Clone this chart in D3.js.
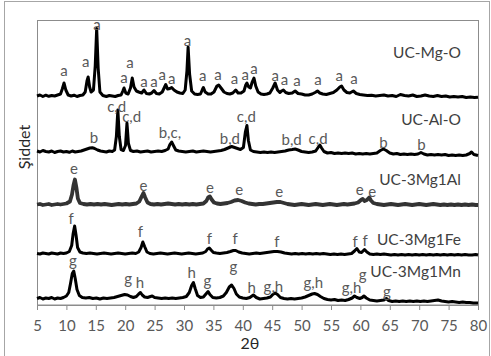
<!DOCTYPE html>
<html>
<head>
<meta charset="utf-8">
<script src="https://cdn.jsdelivr.net/npm/d3@7"></script>
<style>
  body { margin: 0; background: #fff; }
  text { font-family: Lato, "Open Sans", sans-serif; }
</style>
</head>
<body>
<div id="chart"></div>
<script>
// series names and stacking offsets (counts)
const seriesNames = ["UC-Mg-O", "UC-Al-O", "UC-3Mg1Al", "UC-3Mg1Fe", "UC-3Mg1Mn"];
const offsets = [2085, 1530, 1000, 510, 60];
const xTicks = [5, 10, 15, 20, 25, 30, 35, 40, 45, 50, 55, 60, 65, 70, 75, 80];

// [2theta, counts above offset]
const mgO = [[5,0],[5.5,10],[6,-5],[6.5,8],[7,-3],[7.5,5],[8,0],[8.5,10],[9,20],[9.3,70],[9.6,130],[9.9,60],[10.3,10],[10.8,0],[11.3,8],[11.8,-5],[12.3,5],[12.8,10],[13.2,40],[13.5,150],[13.7,190],[13.95,90],[14.2,40],[14.6,60],[14.9,300],[15.15,675],[15.4,280],[15.7,40],[16.2,5],[16.8,-5],[17.3,5],[17.8,0],[18.3,-5],[18.8,5],[19.3,10],[19.6,50],[19.8,80],[20.1,30],[20.5,20],[20.9,80],[21.2,180],[21.5,90],[21.9,50],[22.3,40],[22.8,30],[23.2,60],[23.6,25],[24.1,20],[24.5,30],[24.9,55],[25.3,25],[25.8,20],[26.3,40],[26.7,90],[26.9,115],[27.2,70],[27.6,75],[27.9,85],[28.3,60],[28.8,40],[29.3,30],[29.8,25],[30.2,60],[30.5,250],[30.7,490],[30.95,220],[31.3,50],[31.8,20],[32.3,15],[32.8,20],[33.1,60],[33.3,85],[33.6,40],[34.1,20],[34.6,20],[35.1,40],[35.6,100],[35.9,110],[36.3,80],[36.8,40],[37.3,25],[37.8,20],[38.3,30],[38.8,60],[39.2,30],[39.7,30],[40.2,50],[40.5,110],[40.7,130],[41.0,90],[41.3,80],[41.6,140],[41.9,180],[42.2,100],[42.6,40],[43.1,20],[43.6,15],[44.1,20],[44.6,30],[45.1,80],[45.5,130],[45.9,60],[46.3,35],[46.6,50],[46.9,60],[47.3,35],[47.8,25],[48.4,30],[48.9,50],[49.4,25],[50,20],[50.6,10],[51.2,10],[51.8,20],[52.3,35],[52.7,50],[53.1,30],[53.6,20],[54.2,15],[54.8,25],[55.4,35],[56,60],[56.5,90],[56.8,100],[57.2,60],[57.7,35],[58.2,30],[58.8,50],[59.3,25],[59.9,15],[60.5,10],[61.2,5],[61.9,8],[62.6,0],[63.3,5],[64,10],[64.7,0],[65.4,5],[66.1,-5],[66.8,15],[67.5,5],[68.2,0],[68.9,10],[69.6,-5],[70.3,0],[71,10],[71.7,0],[72.4,-5],[73.1,5],[73.8,-5],[74.5,0],[75.2,-10],[75.9,-5],[76.6,-10],[77.3,-5],[78,-15],[78.7,-10],[79.4,-15],[80,-12]];

const alO = [[5,5],[5.5,-5],[6,10],[6.5,0],[7,-5],[7.5,5],[8,-10],[8.5,0],[9,5],[9.5,-5],[10,0],[10.5,-8],[11,5],[11.5,-5],[12,0],[12.5,5],[13,15],[13.5,25],[14,35],[14.4,38],[14.8,30],[15.3,15],[15.8,5],[16.3,0],[16.8,-5],[17.3,5],[17.8,0],[18.2,15],[18.5,150],[18.75,415],[19.0,150],[19.3,20],[19.7,10],[20.05,60],[20.3,285],[20.55,80],[20.9,10],[21.4,0],[22,5],[22.6,-5],[23.2,0],[23.8,5],[24.4,-5],[25,0],[25.6,5],[26.2,0],[26.8,10],[27.3,25],[27.6,70],[27.9,95],[28.2,60],[28.6,15],[29.1,5],[29.7,0],[30.3,-5],[30.9,0],[31.5,5],[32.1,-5],[32.7,0],[33.3,5],[33.9,0],[34.5,-5],[35.1,0],[35.7,5],[36.3,10],[36.9,20],[37.5,35],[38.1,50],[38.6,40],[39.1,30],[39.6,20],[40.1,40],[40.45,200],[40.7,260],[40.95,110],[41.3,15],[41.8,0],[42.4,-5],[43,-10],[43.6,-5],[44.2,-10],[44.8,-5],[45.4,-10],[46,-5],[46.6,0],[47.2,5],[47.8,15],[48.4,20],[48.9,25],[49.4,15],[50,0],[50.6,-5],[51.2,-10],[51.8,-5],[52.4,5],[52.8,40],[53.1,65],[53.4,35],[53.8,0],[54.4,-15],[55,-10],[55.6,-20],[56.2,-15],[56.8,-20],[57.4,-15],[58,-20],[58.6,-15],[59.2,-25],[59.8,-20],[60.4,-25],[61,-20],[61.6,-25],[62.2,-20],[62.8,-15],[63.4,10],[63.9,25],[64.4,10],[65,-15],[65.6,-25],[66.2,-20],[66.8,-30],[67.4,-25],[68,-30],[68.6,-25],[69.2,-30],[69.8,-25],[70.3,-10],[70.8,-25],[71.4,-35],[72,-30],[72.6,-35],[73.2,-30],[73.8,-35],[74.4,-30],[75,-40],[75.6,-35],[76.2,-40],[76.8,-35],[77.4,-40],[78,-35],[78.6,-20],[78.9,-5],[79.3,-30],[80,-40]];

const mg3Al = [[5,0],[5.5,5],[6,-5],[6.5,0],[7,5],[7.5,-5],[8,0],[8.5,5],[9,0],[9.5,5],[10,10],[10.6,30],[10.95,100],[11.2,190],[11.45,250],[11.7,170],[11.95,60],[12.3,15],[12.9,5],[13.5,0],[14.1,5],[14.7,0],[15.3,5],[15.9,0],[16.5,5],[17.1,0],[17.7,-5],[18.3,0],[18.9,5],[19.5,0],[20.1,5],[20.7,0],[21.3,5],[21.9,10],[22.4,30],[22.8,80],[23.1,115],[23.4,70],[23.8,20],[24.3,5],[24.9,0],[25.5,5],[26.1,0],[26.7,5],[27.3,10],[27.9,5],[28.5,0],[29.1,5],[29.7,0],[30.3,5],[30.9,0],[31.5,5],[32.1,0],[32.7,5],[33.3,10],[33.8,35],[34.1,70],[34.4,80],[34.7,50],[35.1,20],[35.6,10],[36.2,5],[36.8,10],[37.4,15],[38,25],[38.6,40],[39.2,45],[39.8,35],[40.4,20],[41,10],[41.6,5],[42.2,0],[42.8,5],[43.4,5],[44,10],[44.6,15],[45.2,20],[45.8,25],[46.4,25],[47,15],[47.6,5],[48.2,0],[48.8,-5],[49.4,0],[50,5],[50.6,0],[51.2,-5],[51.8,0],[52.4,5],[53,0],[53.6,-5],[54.2,0],[54.8,5],[55.4,0],[56,-5],[56.6,0],[57.2,5],[57.8,0],[58.4,5],[59,10],[59.6,20],[60.1,45],[60.4,55],[60.7,35],[61.1,45],[61.5,70],[61.8,40],[62.2,15],[62.8,5],[63.4,0],[64,-5],[64.6,0],[65.2,5],[65.8,0],[66.4,-5],[67,0],[67.6,5],[68.2,0],[68.8,-5],[69.4,0],[70,5],[70.6,0],[71.2,-5],[71.8,0],[72.4,5],[73,0],[73.6,-5],[74.2,0],[74.8,-5],[75.4,0],[76,-5],[76.6,0],[77.2,-5],[77.8,0],[78.4,-5],[79,0],[79.6,-5],[80,-5]];

const mg3Fe = [[5,0],[5.5,-5],[6,5],[6.5,0],[7,-5],[7.5,5],[8,0],[8.5,-5],[9,5],[9.5,0],[10,5],[10.5,20],[10.9,80],[11.15,200],[11.4,275],[11.65,180],[11.9,60],[12.3,15],[12.8,5],[13.4,0],[14,5],[14.6,0],[15.2,-5],[15.8,0],[16.4,5],[17,0],[17.6,-5],[18.2,0],[18.8,5],[19.4,0],[20,-5],[20.6,0],[21.2,5],[21.8,0],[22.3,15],[22.7,60],[23.0,115],[23.3,70],[23.7,15],[24.2,0],[24.8,-5],[25.4,0],[26,5],[26.6,0],[27.2,-5],[27.8,0],[28.4,5],[29,0],[29.6,-5],[30.2,0],[30.8,5],[31.4,0],[32,-5],[32.6,0],[33.2,5],[33.7,20],[34.0,45],[34.3,55],[34.6,35],[35,10],[35.5,5],[36.1,0],[36.7,5],[37.3,10],[37.9,20],[38.4,30],[38.8,30],[39.3,15],[39.9,5],[40.5,0],[41.1,-5],[41.7,0],[42.3,5],[42.9,0],[43.5,5],[44.1,10],[44.7,15],[45.3,20],[45.9,20],[46.5,15],[47.1,5],[47.7,0],[48.3,-5],[48.9,0],[49.5,-5],[50.1,0],[50.7,-5],[51.3,0],[51.9,-5],[52.5,0],[53.1,-5],[53.7,0],[54.3,-5],[54.9,-10],[55.5,-5],[56.1,-10],[56.7,-5],[57.3,-10],[57.9,-5],[58.5,0],[59.0,25],[59.4,50],[59.8,15],[60.2,10],[60.7,40],[61.1,15],[61.6,-5],[62.2,-10],[62.8,-5],[63.4,-10],[64,-5],[64.6,-10],[65.2,-15],[65.8,-10],[66.4,-15],[67,-10],[67.6,-15],[68.2,-10],[68.8,-15],[69.4,-10],[70,-15],[70.6,-10],[71.2,-15],[71.8,-10],[72.4,-15],[73,-10],[73.6,-15],[74.2,-10],[74.8,-15],[75.4,-10],[76,-15],[76.6,-10],[77.2,-15],[77.8,-10],[78.4,-15],[79,-15],[79.6,-10],[80,-15]];

const mg3Mn = [[5,0],[5.5,10],[6,-5],[6.5,5],[7,0],[7.5,10],[8,-5],[8.5,5],[9,0],[9.5,10],[10,25],[10.4,60],[10.7,150],[11.0,250],[11.25,275],[11.5,200],[11.8,90],[12.2,30],[12.7,10],[13.3,5],[13.9,10],[14.5,0],[15.1,5],[15.7,-5],[16.3,5],[16.9,0],[17.5,5],[18.1,10],[18.7,20],[19.3,30],[19.9,40],[20.4,35],[20.9,20],[21.4,10],[21.9,20],[22.3,45],[22.6,60],[22.9,35],[23.3,15],[23.8,10],[24.3,20],[24.6,25],[25,10],[25.6,5],[26.2,0],[26.8,5],[27.4,0],[28,5],[28.6,0],[29.2,5],[29.8,10],[30.4,20],[30.9,60],[31.3,130],[31.6,160],[31.9,100],[32.3,30],[32.8,10],[33.3,15],[33.8,50],[34.1,70],[34.4,40],[34.9,10],[35.5,5],[36.1,10],[36.7,25],[37.2,60],[37.7,115],[38.1,135],[38.5,100],[38.9,45],[39.4,15],[40,5],[40.6,0],[41.2,10],[41.8,35],[42.3,10],[42.9,-5],[43.5,0],[44.1,5],[44.7,15],[45.1,40],[45.5,55],[45.9,40],[46.4,10],[47,0],[47.6,-5],[48.2,0],[48.8,-5],[49.4,0],[50,5],[50.6,15],[51.2,30],[51.8,45],[52.2,50],[52.7,40],[53.2,20],[53.8,0],[54.4,-10],[55,-15],[55.6,-10],[56.2,-20],[56.8,-15],[57.4,-20],[58,-10],[58.6,5],[59.0,25],[59.4,10],[59.9,0],[60.3,10],[60.6,25],[61.0,5],[61.6,-15],[62.2,-20],[62.8,-25],[63.4,-20],[64,-15],[64.4,0],[64.8,-20],[65.4,-30],[66,-25],[66.6,-30],[67.2,-25],[67.8,-30],[68.4,-25],[69,-30],[69.6,-25],[70.2,-30],[70.8,-25],[71.4,-30],[72,-25],[72.6,-20],[73.2,-15],[73.8,-25],[74.4,-30],[75,-35],[75.6,-30],[76.2,-35],[76.8,-40],[77.4,-35],[78,-40],[78.6,-40],[79.2,-45],[80,-45]];

// peak labels: [2theta, counts above offset, text]
const mgOLabels = [[9.6,202,"a"],[13.3,292,"a"],[15.2,662,"a"],[19.8,132,"a"],[20.8,282,"a"],[23.2,92,"a"],[24.9,92,"a"],[26.3,162,"a"],[27.9,122,"a"],[30.6,505,"a"],[33.2,155,"a"],[35.8,162,"a"],[38.6,122,"a"],[40.4,162,"a"],[41.9,222,"a"],[45.5,152,"a"],[47.1,115,"a"],[49.2,105,"a"],[52.8,115,"a"],[56.4,149,"a"],[58.9,122,"a"]];
const alOLabels = [[14.7,85,"b"],[18.55,398,"c,d"],[21.1,292,"c,d"],[27.6,132,"b,c,"],[37.8,72,"b,d"],[40.6,295,"c,d"],[48.3,65,"b,d"],[52.8,72,"c,d"],[63.9,38,"b"],[70.4,15,"b"]];
const mg3AlLabels = [[11.3,307,"e"],[23.1,135,"e"],[34.4,115,"e"],[39.4,100,"e"],[46.2,80,"e"],[59.9,100,"e"],[62.0,75,"e"]];
const mg3FeLabels = [[10.8,300,"f"],[22.6,165,"f"],[34.3,100,"f"],[38.7,100,"f"],[45.8,65,"f"],[59.1,65,"f"],[60.8,75,"f"]];
const mg3MnLabels = [[11.1,329,"g"],[20.5,145,"g"],[22.5,105,"h"],[31.3,205,"h"],[34.0,129,"g"],[38.4,262,"g"],[41.5,60,"h"],[45.2,70,"g,h"],[52.0,110,"g,h"],[58.5,60,"g,h"],[60.4,189,"g"],[64.5,20,"g"]];

// series name anchors (right end): [2theta, counts above offset]
const nameAnchors = [[77.1,385],[77.1,265],[77.1,200],[77.1,85],[77.1,215]];

const traces = [mgO, alO, mg3Al, mg3Fe, mg3Mn];
const peakLabels = [mgOLabels, alOLabels, mg3AlLabels, mg3FeLabels, mg3MnLabels];

const W = 491, H = 356;
const margin = { top: 20, right: 13, bottom: 51.5, left: 37 };
const innerW = W - margin.left - margin.right;
const innerH = H - margin.top - margin.bottom;

const svg = d3.select("#chart").append("svg")
  .attr("width", W).attr("height", H);

// outer chart-area border
svg.append("rect")
  .attr("x", 4.5).attr("y", 1.5)
  .attr("width", W - 6).attr("height", H + 5)
  .attr("fill", "none").attr("stroke", "#a6a6a6").attr("stroke-width", 1);

const g = svg.append("g").attr("transform", `translate(${margin.left},${margin.top})`);

const x = d3.scaleLinear().domain([5, 80]).range([0, innerW]);
const y = d3.scaleLinear().domain([0, 2845]).range([innerH, 0]);

// plot frame
g.append("rect")
  .attr("x", 0.5).attr("y", 0.5)
  .attr("width", innerW).attr("height", innerH)
  .attr("fill", "none").attr("stroke", "#8c8c8c").attr("stroke-width", 1);

// x axis
const xAxis = g.append("g")
  .attr("transform", `translate(0,${innerH + 0.5})`)
  .call(d3.axisBottom(x).tickValues(xTicks).tickSize(5).tickPadding(10).tickFormat(d3.format("d")));
xAxis.select(".domain").attr("stroke", "#8c8c8c");
xAxis.selectAll(".tick line").attr("stroke", "#8c8c8c");
xAxis.selectAll(".tick text")
  .attr("fill", "#595959")
  .style("font-size", "15px");

// traces
const line = d3.line()
  .x(d => x(d[0]))
  .y(d => y(d[1]))
  .curve(d3.curveLinear);

const colours = ["#000", "#000", "#333", "#000", "#000"];
const widths = [3, 3, 3.8, 3, 3];

traces.forEach((tr, i) => {
  g.append("path")
    .datum(tr.map(d => [d[0], d[1] + offsets[i]]))
    .attr("d", line)
    .attr("fill", "none")
    .attr("stroke", colours[i])
    .attr("stroke-width", widths[i])
    .attr("stroke-linejoin", "round");
});

// peak letters
peakLabels.forEach((labs, i) => {
  g.selectAll(null)
    .data(labs)
    .join("text")
    .attr("x", d => x(d[0]))
    .attr("y", d => y(d[1] + offsets[i]))
    .attr("text-anchor", "middle")
    .attr("fill", "#595959")
    .style("font-size", "15px")
    .text(d => d[2]);
});

// series names
g.selectAll(null)
  .data(seriesNames)
  .join("text")
  .attr("x", (d, i) => x(nameAnchors[i][0]))
  .attr("y", (d, i) => y(nameAnchors[i][1] + offsets[i]))
  .attr("text-anchor", "end")
  .attr("fill", "#404040")
  .style("font-size", "15.5px")
  .text(d => d);

// axis titles
svg.append("text")
  .attr("x", 250).attr("y", 349)
  .attr("text-anchor", "middle")
  .attr("fill", "#262626")
  .style("font-size", "16px")
  .text("2θ");

svg.append("text")
  .attr("transform", "translate(30,147) rotate(-90)")
  .attr("text-anchor", "middle")
  .attr("fill", "#262626")
  .style("font-size", "16px")
  .text("Şiddet");
</script>
</body>
</html>
